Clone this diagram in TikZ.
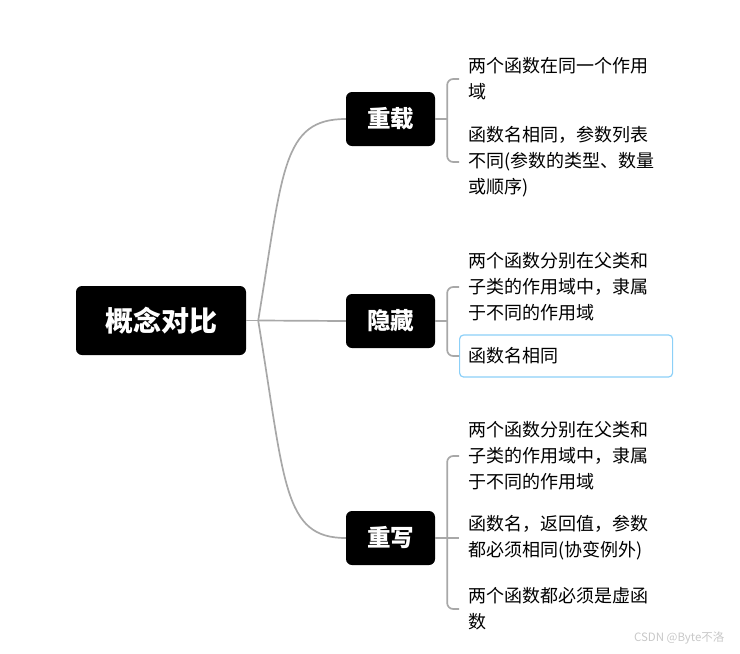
\documentclass[tikz,border=0pt]{standalone}
\usepackage{fontspec}
\usepackage{tikz}
\usetikzlibrary{positioning,calc}
\newfontfamily\cjk{Noto Sans CJK SC}
\definecolor{linkGray}{RGB}{168,168,168}
\definecolor{selBlue}{RGB}{140,208,248}
\definecolor{markGray}{RGB}{200,200,200}

\begin{document}
\begin{tikzpicture}[
  x=1pt, y=-1pt,
  every node/.style={font=\cjk},
  rootbox/.style={fill=black, text=white, rounded corners=6pt,
                  minimum width=170pt, minimum height=69pt,
                  font=\cjk\bfseries\fontsize{28}{30}\selectfont},
  topic/.style={fill=black, text=white, rounded corners=6pt,
                minimum width=89pt, minimum height=54pt,
                font=\cjk\bfseries\fontsize{23.5}{26}\selectfont},
  leaf/.style={anchor=west, text width=197pt, align=left, inner xsep=9pt,
               inner ysep=0pt, font=\cjk\fontsize{18}{26}\selectfont},
  picked/.style={draw=selBlue, line width=1.2pt, rounded corners=4pt,
                 text width=195pt, minimum height=42pt},
  link/.style={draw=linkGray, line width=1.7pt, rounded corners=6pt},
]
\useasboundingbox (0,0) rectangle (740,654);

% Root
\node[rootbox] (root) at (161,320.5) {概念对比};

% Topics
\node[topic] (c1) at (390.5,119) {重载};
\node[topic] (c2) at (390.5,321) {隐藏};
\node[topic] (c3) at (390.5,538) {重写};

% Root to topics
\draw[link] (root.east) -- ++(12,0) coordinate (k);
\draw[link] (k) .. controls (283,170) and (282,119) .. (c1.west);
\draw[link] (k) -- (c2.west);
\draw[link] (k) .. controls (285,484) and (283,538) .. (c3.west);

% Leaves of c1
\node[leaf] (c1a) at (459,79) {两个函数在同一个作用\\域};
\node[leaf] (c1b) at (459,162) {函数名相同，参数列表\\不同(参数的类型、数量\\或顺序)};

% Leaves of c2
\node[leaf] (c2a) at (459,287) {两个函数分别在父类和\\子类的作用域中，隶属\\于不同的作用域};
\node[leaf, picked] (c2b) at (459,356) {函数名相同};

% Leaves of c3
\node[leaf] (c3a) at (459,456) {两个函数分别在父类和\\子类的作用域中，隶属\\于不同的作用域};
\node[leaf] (c3b) at (459,538) {函数名，返回值，参数\\都必须相同(协变例外)};
\node[leaf] (c3c) at (459,609) {两个函数都必须是虚函\\数};

% Brackets
\draw[link] (c1.east) -- ++(12,0) coordinate (s1);
\draw[link] (c1a.west) -| (s1) |- (c1b.west);
\draw[link] (c2.east) -- ++(12,0) coordinate (s2);
\draw[link] (c2a.west) -| (s2) |- (c2b.west);
\draw[link] (c3.east) -- (c3b.west);
\draw[link] (c3a.west) -| ($(c3.east)+(12,0)$) |- (c3c.west);

% Watermark
\node[text=markGray, font=\cjk\fontsize{11.5}{13}\selectfont, anchor=east]
  (mark) at (728,638) {CSDN @Byte不洛};

\end{tikzpicture}
\end{document}
